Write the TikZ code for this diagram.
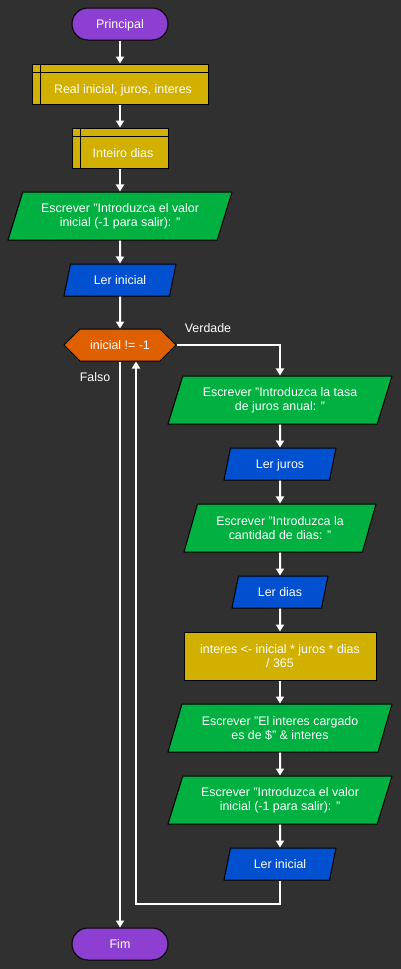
\documentclass[tikz,border=0pt]{standalone}
\usepackage{fontspec}
\setmainfont{Liberation Sans}
\usetikzlibrary{arrows.meta,shapes.geometric,shapes.symbols}

\definecolor{fundo}{HTML}{303030}
\definecolor{roxo}{HTML}{8C3FD0}
\definecolor{ouro}{HTML}{D1B000}
\definecolor{verde}{HTML}{00B040}
\definecolor{azul}{HTML}{0050D0}
\definecolor{laranja}{HTML}{DF6000}

\tikzset{
  base/.style={draw=black,line width=1pt,text=white,align=center,inner sep=2pt,
    font=\fontsize{12.4}{14}\selectfont},
  oneline/.style={text height=9pt,text depth=0pt},
  term/.style={base,oneline,fill=roxo,rounded corners=16pt,minimum width=96pt,minimum height=32pt},
  decl/.style={base,fill=ouro,minimum height=40pt,text height=18pt,text depth=0pt,
    path picture={
      \draw[black,line width=1pt] ([yshift=-8pt]path picture bounding box.north west)
        -- ([yshift=-8pt]path picture bounding box.north east);
      \draw[black,line width=1pt] ([xshift=8pt]path picture bounding box.north west)
        -- ([xshift=8pt]path picture bounding box.south west);}},
  proc/.style={base,fill=ouro,minimum width=192pt,minimum height=48pt},
  io/.style={base,trapezium,trapezium left angle=63.43,trapezium right angle=116.57,
    trapezium stretches body},
  outp/.style={io,fill=verde,minimum height=48pt},
  inp/.style={io,oneline,fill=azul,minimum height=32pt},
  cond/.style={base,oneline,fill=laranja,signal,signal to=east and west,signal pointer angle=90,
    minimum width=112pt,minimum height=32pt},
  lbl/.style={text=white,font=\fontsize{12.4}{14}\selectfont},
  flow/.style={draw=white,line width=2pt,-{Triangle[width=8pt,length=7pt]}}
}

\begin{document}
\begin{tikzpicture}[x=1pt,y=-1pt]
\fill[fundo] (0,0) rectangle (401,969);
\useasboundingbox (0,0) rectangle (401,969);

% coluna principal
\node[term] (prin) at (120,24) {Principal};
\node[decl,minimum width=176pt] (var1) at (120,84) {\hspace*{6pt}Real inicial, juros, interes};
\node[decl,minimum width=96pt] (var2) at (120,148) {\hspace*{6pt}Inteiro dias};
\node[outp,minimum width=224pt] (esc1) at (120,216) {Escrever "Introduzca el valor\\inicial (-1 para salir): "};
\node[inp,minimum width=112pt] (ler1) at (120,280) {Ler inicial};
\node[cond] (cond) at (120,345) {inicial != -1};
\node[term] (fim) at (120,944) {Fim};

% ramo verdadeiro
\node[outp,minimum width=224pt] (esc2) at (280,400) {Escrever "Introduzca la tasa\\de juros anual: "};
\node[inp,minimum width=112pt] (ler2) at (280,464) {Ler juros};
\node[outp,minimum width=192pt] (esc3) at (280,528) {Escrever "Introduzca la\\cantidad de dias: "};
\node[inp,minimum width=96pt] (ler3) at (280,592) {Ler dias};
\node[proc] (calc) at (280,656) {interes <- inicial * juros * dias\\/ 365};
\node[outp,minimum width=224pt] (esc4) at (280,728) {Escrever "El interes cargado\\es de \$" \& interes};
\node[outp,minimum width=224pt] (esc5) at (280,800) {Escrever "Introduzca el valor\\inicial (-1 para salir): "};
\node[inp,minimum width=112pt] (ler4) at (280,864) {Ler inicial};

\coordinate (volta) at (136,904);

\node[lbl] (verd) at (208,328) {Verdade};
\node[lbl] (fals) at (95,377) {Falso};

\draw[flow] (prin) -- (var1);
\draw[flow] (var1) -- (var2);
\draw[flow] (var2) -- (esc1);
\draw[flow] (esc1) -- (ler1);
\draw[flow] (ler1) -- (cond);
\draw[flow] (cond.east) -| (esc2);
\draw[flow] (esc2) -- (ler2);
\draw[flow] (ler2) -- (esc3);
\draw[flow] (esc3) -- (ler3);
\draw[flow] (ler3) -- (calc);
\draw[flow] (calc) -- (esc4);
\draw[flow] (esc4) -- (esc5);
\draw[flow] (esc5) -- (ler4);
\draw[flow] (ler4.south) |- (volta) -- (volta |- cond.south);
\draw[flow] (cond.south) -- (fim);

\end{tikzpicture}
\end{document}
